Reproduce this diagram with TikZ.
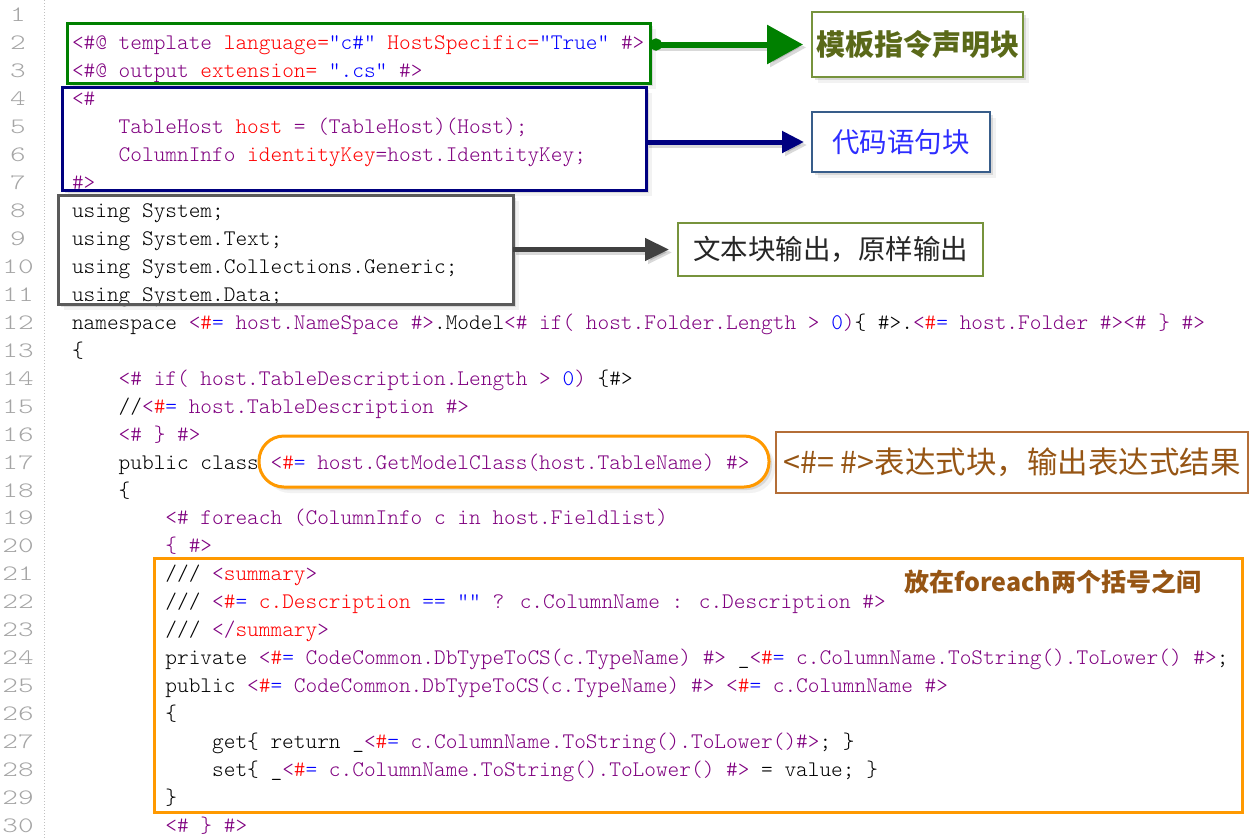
\documentclass[tikz,border=0pt]{standalone}
\usepackage{fontspec}
\usetikzlibrary{arrows.meta,shadows}
\newfontfamily\cjk{Noto Sans CJK SC}
\newfontfamily\codefont{lmmonolt10-regular.otf}
\newfontfamily\lnfont[FakeStretch=1.35]{lmmonolt10-regular.otf}
\definecolor{cpurple}{RGB}{128,0,128}
\definecolor{cred}{RGB}{255,0,0}
\definecolor{cblue}{RGB}{0,0,255}
\definecolor{lngray}{RGB}{165,165,165}
\definecolor{greenc}{RGB}{0,128,0}
\definecolor{navyc}{RGB}{0,0,128}
\definecolor{grayc}{RGB}{90,90,90}
\definecolor{arrgray}{RGB}{64,64,64}
\definecolor{orangec}{RGB}{255,153,0}
\definecolor{lblgreen}{RGB}{119,147,60}
\definecolor{lblblue}{RGB}{56,93,138}
\definecolor{olivetxt}{RGB}{90,105,25}
\definecolor{bluetxt}{RGB}{45,45,255}
\definecolor{brownb}{RGB}{180,110,55}
\definecolor{browntxt}{RGB}{150,85,20}
\newcommand\CoP[1]{{\color{cpurple}\relax#1}}
\newcommand\CoR[1]{{\color{cred}\relax#1}}
\newcommand\CoB[1]{{\color{cblue}\relax#1}}
\newcommand\OpenEq{\CoP{<}\CoR{\#}\CoB{=}}
\newcommand\CodeLine[3]{\node[code] (c#1) at ({72+11.68*#2},{21.5+27.97*(#1-1)}) {#3};}
\tikzset{
  code/.style={anchor=base west, inner sep=0pt, outer sep=0pt, font=\codefont\fontsize{22.25}{28}\selectfont},
  lnum/.style={anchor=base, inner sep=0pt, text=lngray, font=\lnfont\fontsize{22}{28}\selectfont},
  boxbg/.style={inner sep=0pt, outer sep=0pt, fill=white},
  softshadow/.style={drop shadow={shadow xshift=3pt,shadow yshift=-3pt,opacity=.22},
                     drop shadow={shadow xshift=6pt,shadow yshift=-6pt,opacity=.10}},
  lab/.style={inner sep=0pt, outer sep=0pt, fill=white, line width=1.5pt, align=center},
  arrshadow/.style={opacity=.15, transform canvas={xshift=3pt,yshift=-3pt}}
}
\begin{document}
\begin{tikzpicture}[x=1pt,y=-1pt]
\useasboundingbox (0,0) rectangle (1253,839);
\fill[white] (0,0) rectangle (1253,839);
% gutter line
\draw[lngray!70, line width=0.8pt, dash pattern=on 1pt off 2pt] (44,0) -- (44,839);
% box backgrounds
\node[boxbg, softshadow, minimum width=583pt, minimum height=60pt] (greenbox) at (358.5,53) {};
\node[boxbg, softshadow, minimum width=584pt, minimum height=103pt] (bluebox) at (354,138.5) {};
\node[boxbg, softshadow, minimum width=455pt, minimum height=109pt] (graybox) at (285.5,249.5) {};
\node[boxbg, softshadow, rounded corners=25pt, minimum width=510pt, minimum height=51pt] (pill) at (514,461.5) {};
\node[inner sep=0pt, outer sep=0pt, minimum width=1088pt, minimum height=254pt] (bigbox) at (698,685) {};
% line numbers
\foreach \n in {1,...,30} \node[lnum] (n\n) at (18,{21.5+27.97*(\n-1)}) {\n};
% code
\CodeLine{2}{0}{\CoP{<\#@ template }\CoR{language=}\CoB{"c\#"}\CoR{ HostSpecific=}\CoB{"True"}\CoP{ \#>}}
\CodeLine{3}{0}{\CoP{<\#@ output }\CoR{extension=}\CoB{ ".cs"}\CoP{ \#>}}
\CodeLine{4}{0}{\CoP{<\#}}
\CodeLine{5}{4}{\CoP{TableHost }\CoR{host}\CoP{ = (TableHost)(Host);}}
\CodeLine{6}{4}{\CoP{ColumnInfo }\CoR{identityKey}\CoP{=host.IdentityKey;}}
\CodeLine{7}{0}{\CoP{\#>}}
\CodeLine{8}{0}{using System;}
\CodeLine{9}{0}{using System.Text;}
\CodeLine{10}{0}{using System.Collections.Generic;}
\CodeLine{11}{0}{using System.Data;}
\CodeLine{12}{0}{namespace \OpenEq\CoP{ host.NameSpace \#>}.Model\CoP{<\# if( host.Folder.Length > }\CoB{0}\CoP{)}\{ \#>.\OpenEq\CoP{ host.Folder \#><\# \} \#>}}
\CodeLine{13}{0}{\{}
\CodeLine{14}{4}{\CoP{<\# if( host.TableDescription.Length > }\CoB{0}\CoP{) }\{\#>}
\CodeLine{15}{4}{//\OpenEq\CoP{ host.TableDescription \#>}}
\CodeLine{16}{4}{\CoP{<\# \} \#>}}
\CodeLine{17}{4}{public class \OpenEq\CoP{ host.GetModelClass(host.TableName) \#>}}
\CodeLine{18}{4}{\{}
\CodeLine{19}{8}{\CoP{<\# foreach (ColumnInfo c in host.Fieldlist)}}
\CodeLine{20}{8}{\CoP{\{ \#>}}
\CodeLine{21}{8}{/// \CoP{<}\CoR{summary}\CoP{>}}
\CodeLine{22}{8}{/// \OpenEq\CoR{ c.Description}\CoB{ == ""}\CoP{ ? c.ColumnName : c.Description \#>}}
\CodeLine{23}{8}{/// \CoP{</}\CoR{summary}\CoP{>}}
\CodeLine{24}{8}{private \OpenEq\CoP{ CodeCommon.DbTypeToCS(c.TypeName) \#>} \_\OpenEq\CoP{ c.ColumnName.ToString().ToLower() \#>};}
\CodeLine{25}{8}{public \OpenEq\CoP{ CodeCommon.DbTypeToCS(c.TypeName) \#>} \OpenEq\CoP{ c.ColumnName \#>}}
\CodeLine{26}{8}{\{}
\CodeLine{27}{12}{get\{ return \_\OpenEq\CoP{ c.ColumnName.ToString().ToLower()\#>}; \}}
\CodeLine{28}{12}{set\{ \_\OpenEq\CoP{ c.ColumnName.ToString().ToLower() \#>} = value; \}}
\CodeLine{29}{8}{\}}
\CodeLine{30}{8}{\CoP{<\# \} \#>}}
% box borders
\draw[greenc, line width=3pt] (greenbox.north west) rectangle (greenbox.south east);
\draw[navyc, line width=3pt] (bluebox.north west) rectangle (bluebox.south east);
\draw[grayc, line width=3pt] (graybox.north west) rectangle (graybox.south east);
\draw[orangec, line width=3pt, rounded corners=25pt] (pill.north west) rectangle (pill.south east);
\draw[orangec, line width=3pt] (bigbox.north west) rectangle (bigbox.south east);
% labels
\node[lab, softshadow, draw=lblgreen, text=olivetxt, font=\cjk\bfseries\fontsize{29}{32}\selectfont,
      minimum width=211pt, minimum height=65pt] (label1) at (917.5,44.5) {模板指令声明块};
\node[lab, softshadow, draw=lblblue, text=bluetxt, font=\cjk\fontsize{27.5}{30}\selectfont,
      minimum width=178pt, minimum height=60pt] (label2) at (901,142) {代码语句块};
\node[lab, draw=lblgreen, text=black!85, font=\cjk\fontsize{27.5}{30}\selectfont,
      minimum width=305pt, minimum height=53pt] (label3) at (830.5,249.5) {文本块输出，原样输出};
\node[lab, draw=brownb, text=browntxt, font=\cjk\fontsize{30.5}{33}\selectfont,
      minimum width=472pt, minimum height=61pt] (label4) at (1012,462.5) {<\#= \#>表达式块，输出表达式结果};
\node[inner sep=0pt, text=browntxt, font=\cjk\bfseries\fontsize{25}{28}\selectfont] (label5) at (1053,582) {放在foreach两个括号之间};
% arrows
\draw[arrshadow, line width=6pt, -{Triangle[length=36pt,width=38pt]}, shorten >=9pt] (greenbox.east |- label1.west) -- (label1.west);
\draw[greenc, line width=6pt, {Circle[length=12pt]}-{Triangle[length=36pt,width=38pt]}, shorten >=9pt] (greenbox.east |- label1.west) -- (label1.west);
\draw[arrshadow, line width=5pt, -{Triangle[length=22pt,width=21pt]}, shorten >=8pt] (bluebox.east |- label2.west) -- (label2.west);
\draw[navyc, line width=5pt, -{Triangle[length=22pt,width=21pt]}, shorten >=8pt] (bluebox.east |- label2.west) -- (label2.west);
\draw[arrshadow, line width=4.5pt, -{Triangle[length=24pt,width=22pt]}, shorten >=9pt] (graybox.east) -- (graybox.east -| label3.west);
\draw[arrgray, line width=4.5pt, -{Triangle[length=24pt,width=22pt]}, shorten >=9pt] (graybox.east) -- (graybox.east -| label3.west);
\end{tikzpicture}
\end{document}
